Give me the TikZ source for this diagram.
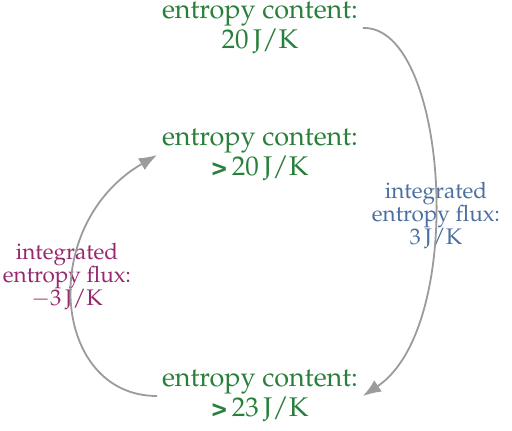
\documentclass[tikz,border=0pt]{standalone}
\usepackage[T1]{fontenc}
\usepackage{mathpazo}
\usetikzlibrary{arrows.meta}

\definecolor{contentgreen}{RGB}{40,128,58}
\definecolor{fluxblue}{RGB}{74,112,162}
\definecolor{fluxpurple}{RGB}{152,40,110}
\definecolor{arrowgray}{RGB}{155,155,155}

\tikzset{
  content/.style={text=contentgreen, align=center, inner sep=2pt,
    font=\fontsize{12}{12}\selectfont},
  fluxlabel/.style={align=center, inner sep=1pt,
    font=\fontsize{10}{10.2}\selectfont},
  flow/.style={draw=arrowgray, line width=0.8pt, -{Latex[length=8pt,width=6pt]}}
}

\newcommand{\gt}{{\fontfamily{phv}\fontseries{b}\fontsize{12}{12}\selectfont >}\,}

\begin{document}
\begin{tikzpicture}[x=0.444pt, y=0.444pt]
  \useasboundingbox (0,0) rectangle (512,430);

  % Entropy content at the three stages
  \node[content] (top) at (260,402) {entropy content:\\ 20\,J/K};
  \node[content] (mid) at (260,275) {entropy content:\\ \gt 20\,J/K};
  \node[content] (bot) at (260,34) {entropy content:\\ \gt 23\,J/K};

  % Flux labels
  \node[fluxlabel, text=fluxblue] (fluxin) at (436,215)
    {integrated\\ entropy flux:\\ 3\,J/K};
  \node[fluxlabel, text=fluxpurple] (fluxout) at (67,154)
    {integrated\\ entropy flux:\\ $-$3\,J/K};

  % Connectors
  \draw[flow] (top.east) .. controls +(85,3) and +(105,70) .. (bot.east);
  \draw[flow] (bot.west) .. controls +(-105,0) and +(-120,-70) .. (mid.west);
\end{tikzpicture}
\end{document}
